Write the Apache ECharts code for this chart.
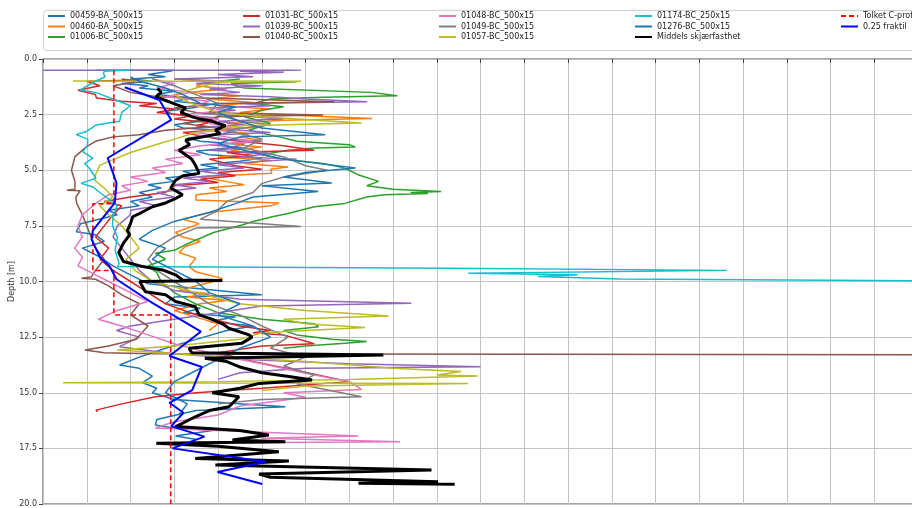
<!DOCTYPE html>
<html><head><meta charset="utf-8">
<script src="https://cdn.jsdelivr.net/npm/echarts@6/dist/echarts.min.js"></script>
<style>html,body{margin:0;padding:0;background:#fff}#c{width:912px;height:508px}</style>
</head><body><div id="c"></div>
<script>
// Depth tick labels (y axis, inverted)
const depthTicks = ['0.0','2.5','5.0','7.5','10.0','12.5','15.0','17.5','20.0'];
// Series names
const names = ['00459-BA_500x15','00460-BA_500x15','01006-BC_500x15','01031-BC_500x15','01039-BC_500x15','01040-BC_500x15','01048-BC_500x15','01049-BC_500x15','01057-BC_500x15','01174-BC_250x15','01276-BC_500x15','Middels skjærfasthet','Tolket C-profil','0.25 fraktil'];
// Each point: [strength, depth]
const s00459 = [[12,0.5],[30,0.5],[29,0.55],[24,0.7],[28,0.8],[20,0.9],[25,1.0],[18,1.1],[24,1.2],[22,1.3],[30,1.45],[26,1.6],[34,1.75],[30,1.9],[38,2.05],[34,2.2],[28,2.35],[30,2.5],[40,2.65],[36,2.8],[30,2.95],[32,3.1],[44,3.25],[40,3.4],[33,3.55],[36,3.7],[46,3.85],[42,4.0],[35,4.15],[38,4.3],[50,4.45],[45,4.6],[36,4.75],[40,4.9],[32,5.05],[35,5.2],[28,5.35],[30,5.5],[24,5.65],[27,5.8],[22,6.0],[25,6.2],[20,6.4],[22,6.6],[15,6.8],[17,7.0],[8.6,7.4],[7.6,7.76],[12,7.9],[14,8.2],[9,8.5],[13,8.9],[16,9.3],[20,9.7],[24,10.1],[50,10.6],[30,10.7],[28,11.0],[36,11.2],[32,11.4],[44,11.6],[38,11.8],[48,12.0],[42,12.2],[35,12.6],[28,13.0],[22,13.4],[17.5,13.75],[22,13.9],[25,14.25],[22.8,14.55],[26,14.8],[25,15.0],[30,15.3],[55.4,15.63],[35,15.8],[26,16.2],[25.7,16.45],[30,16.6],[39.4,16.67],[30.3,16.94],[35,17.1]];
const s00460 = [[30,0.9],[38,1.0],[35,1.2],[42,1.35],[33,1.5],[45,1.65],[38,1.8],[48,1.95],[40,2.1],[52,2.25],[45,2.4],[60,2.55],[75.2,2.67],[55,2.75],[42,2.9],[50,3.05],[40,3.2],[47,3.35],[45,3.5],[49.4,3.64],[44,3.85],[50,3.95],[43,4.1],[48,4.25],[40,4.4],[52,4.55],[46,4.7],[56,4.85],[52,4.95],[52.3,5.14],[35.7,5.29],[41.8,5.5],[46,5.65],[38,5.8],[42,5.95],[35,6.1],[34.9,6.34],[54,6.47],[52,6.6],[38,6.9],[32,7.2],[35.7,7.4],[30.3,7.8],[31.9,8.0],[36,8.2],[32.5,8.43],[31.1,8.7],[34.9,8.95],[33.4,9.33],[34.9,9.56],[41,9.86],[40,9.96],[35.7,10.16],[31.1,10.4],[38,10.55],[33,10.7],[42,10.85],[36,11.0],[30,11.3],[35,11.6],[40,11.9],[38,12.2]];
const s01006 = [[45,0.9],[40,1.0],[58,1.02],[43,1.1],[44,1.2],[46,1.3],[75,1.5],[81,1.65],[64,1.72],[52,1.8],[48,2.0],[55,2.15],[50,2.3],[46,2.6],[52,2.9],[47,3.2],[54,3.5],[58,3.7],[70,3.85],[71.4,3.95],[62,4.0],[56,4.1],[50,4.3],[55,4.5],[64,4.7],[68,4.85],[70,5.0],[72,5.2],[76.7,5.5],[74,5.7],[80,5.85],[91,5.96],[84,6.0],[88,6.05],[78,6.1],[74,6.2],[69,6.49],[62,6.64],[56,6.94],[52.4,7.09],[48,7.3],[45.5,7.46],[39,7.8],[33.4,8.27],[30,8.6],[25.7,8.73],[28,9.0],[24,9.3],[26,9.6],[27,10.0],[30,10.5],[34.8,11.0],[40,11.4],[50,11.7],[62,11.9],[63,12.03],[55,12.2],[58,12.4],[66,12.6],[74,12.7],[69,12.78],[60,12.9],[55,13.0]];
const s01031 = [[20,0.95],[10,1.0],[13,1.2],[8,1.4],[12,1.6],[12.2,1.75],[18,1.9],[26,2.0],[22,2.1],[30,2.25],[26,2.4],[34,2.55],[30,2.7],[38,2.85],[35,3.0],[42,3.15],[32,3.3],[40,3.6],[55,3.9],[62,4.1],[42,4.2],[48,4.35],[38,4.5],[44,4.8],[50,4.95],[40,5.1],[44,5.25],[36,5.4],[40,5.55],[30,5.7],[28,6.0],[20,6.2],[14,6.4],[18,6.6],[16,7.0],[14,7.5],[12,8.0],[15,8.5],[13,9.0],[16,9.5],[20,10.0],[24,10.5],[28,11.0],[35,11.5],[45,12.0],[52,12.2],[48,12.3],[55,12.4],[62,12.8],[50,12.9],[40,13.2],[48,13.6],[58,14.0],[70,14.5],[50,14.8],[35,15.0],[25.7,15.18],[18,15.5],[12.1,15.78],[12.5,15.85]];
const s01039 = [[0,0.5],[35,0.5],[59,0.5],[45,0.55],[55,0.6],[40,0.7],[48,0.8],[30,0.9],[42,1.0],[35,1.1],[50,1.2],[38,1.35],[45,1.5],[36,1.6],[52,1.7],[60,1.8],[74.1,1.92],[45,2.0],[52,2.1],[38,2.2],[44,2.3],[36,2.45],[48,2.6],[55,2.7],[40,2.8],[46,2.95],[38,3.05],[45,3.2],[52,3.3],[35,3.45],[42,3.6],[50,3.7],[38,3.85],[46,4.0],[38,4.1],[52,4.25],[45,4.4],[58,4.5],[50,4.6],[40,4.75],[46,4.9],[36,5.05],[42,5.2],[32,5.35],[38,5.5],[30,5.65],[35,5.8],[26,6.0],[30,6.2],[22,6.4],[26,6.6],[20,6.8],[20,7.0],[17,7.5],[16,8.0],[18,8.5],[20,9.0],[22,9.5],[25,10.0],[30,10.4],[45,10.8],[84.2,10.98],[50,11.1],[40,11.4],[30,11.7],[20,12.0],[16.8,12.2],[22,12.5],[17.5,12.93],[28,13.2],[45,13.5],[70,13.7],[100,13.83],[60,13.9],[45,14.1],[40,14.4]];
const s01040 = [[18,0.9],[22,1.0],[16,1.2],[20,1.5],[26,1.7],[45,1.8],[66.6,1.92],[40,2.0],[30,2.2],[35,2.4],[64,2.52],[40,2.6],[32,2.9],[38,3.05],[28,3.2],[22,3.4],[16,3.5],[12,3.7],[10,3.94],[7.3,4.39],[6.5,5.0],[7.3,5.5],[7.3,5.85],[5.5,5.9],[8.5,5.92],[7.5,6.2],[7.7,6.49],[9,7.0],[10,7.5],[11,8.0],[12,8.5],[14,9.0],[12,9.5],[11,9.8],[8.8,9.85],[12,9.9],[15,10.2],[18,10.6],[22,11.0],[20,11.5],[24,12.0],[21.3,12.6],[15,12.9],[9.6,13.08],[14,13.2],[25,13.25],[210,13.3]];
const s01048 = [[25,0.9],[30,1.1],[26,1.3],[34,1.5],[28,1.7],[38,1.9],[35,2.1],[42,2.3],[32,2.5],[40,2.7],[38,2.9],[46,3.1],[35,3.3],[42,3.5],[48,3.7],[36,3.9],[30,4.1],[36,4.3],[28,4.5],[32,4.7],[25,4.9],[28,5.1],[20,5.3],[24,5.5],[18,5.7],[20,5.9],[15,6.1],[12,6.5],[9,7.0],[8,7.5],[9,8.0],[7.2,8.5],[9,8.9],[8,9.3],[12,9.7],[16,10.1],[20,10.5],[24,10.9],[17,11.3],[12.6,11.7],[18,12.0],[24,12.4],[30,12.8],[40,13.3],[50,13.7],[62,14.2],[70,14.5],[72.8,14.85],[55,15.0],[60,15.2],[45,15.6],[40,16.0],[30,16.3],[25.7,16.58],[40,16.7],[72.1,16.94],[50,17.05],[81.6,17.2],[45,17.25]];
const s01049 = [[25,0.9],[30,1.2],[35,1.6],[40,2.0],[38,2.4],[45,2.8],[52,2.95],[42,3.2],[50,3.6],[46,4.0],[55,4.4],[60,4.8],[65,5.0],[55,5.3],[50,5.6],[48,6.0],[42,6.4],[40,6.8],[36,7.2],[58.9,7.53],[35,7.6],[30,8.0],[26,8.5],[24,9.0],[26,9.5],[30,10.0],[34,10.5],[38,11.0],[45,11.5],[50,12.0],[56,12.5],[52,13.0],[60,13.4],[55,13.8],[62,14.2],[58,14.6],[72.8,15.18],[50,15.3],[40,15.5]];
const s01057 = [[6.8,0.99],[30,1.0],[59,1.0],[40,1.05],[35,1.3],[30,1.6],[34,2.0],[40,2.4],[50,2.6],[72.8,2.88],[45,3.0],[35,3.3],[30,3.6],[25,3.9],[20,4.2],[13,4.77],[12,5.2],[11.8,5.44],[14,5.8],[16,6.2],[13,6.6],[15,7.0],[18,7.5],[20,8.0],[22,8.5],[19,9.0],[21,9.5],[25,10.0],[35,10.5],[45,11.0],[60,11.3],[79,11.55],[55,11.7],[60,11.9],[73.6,12.07],[50,12.3],[45,12.6],[30,12.9],[17,13.08],[35,13.3],[60,13.6],[80,13.9],[95.6,14.05],[90,14.2],[99.4,14.25],[70,14.4],[40,14.5],[4.6,14.55],[97.2,14.58],[60,14.7],[50,14.9]];
const s01174 = [[20,0.5],[14,0.55],[13.8,0.65],[14.2,0.8],[12,1.0],[8.5,1.39],[12,1.5],[16,1.8],[20,2.1],[18,2.4],[17.5,2.8],[12.1,2.97],[9.8,3.27],[7.6,3.4],[10.2,3.6],[10.2,3.87],[9.1,4.17],[11.4,4.46],[9.5,4.7],[10.6,4.91],[12.1,5.36],[8.7,5.59],[11.4,5.75],[13,6.0],[15,6.3],[17,6.6],[16,7.0],[15.9,7.5],[17,8.0],[16.5,8.6],[17.4,9.2],[17,9.33],[92.6,9.4],[156.3,9.5],[97.2,9.63],[122.2,9.7],[113.1,9.78],[131.7,9.89],[210,9.98]];
const s01276 = [[20,0.8],[22,1.0],[28,1.3],[32,1.6],[36,2.0],[44,2.15],[40,2.4],[45,2.8],[50,3.1],[64.5,3.4],[45,3.5],[40,3.8],[48,4.2],[55,4.5],[71.4,4.9],[60,5.1],[55,5.3],[66,5.57],[50,5.7],[62.9,5.96],[48,6.2],[44,6.5],[38,6.9],[30,7.3],[25,7.7],[22,8.1],[28,8.5],[25,9.0],[30,9.5],[35,10.0],[38,10.5],[45,11.0],[40,11.5],[48,12.0],[52,12.5],[45,13.0],[40,13.5],[35,14.0],[30,14.5],[28,15.0],[33,15.5],[31,16.0]];
const middels = [[26.2,1.32],[27.0,1.5],[25.8,1.7],[28.8,1.92],[30.5,2.05],[32.6,2.2],[31.5,2.4],[34.1,2.6],[36.0,2.7],[38.7,2.8],[41.7,3.0],[39.4,3.2],[40.5,3.35],[36.5,3.5],[32.6,3.64],[33.5,3.85],[31.1,4.1],[32.6,4.3],[34.0,4.5],[34.8,4.76],[35.7,5.14],[32.0,5.25],[30.3,5.45],[29.2,5.8],[31.9,6.1],[30.0,6.3],[28.0,6.47],[25.0,6.64],[22.5,6.9],[20.5,7.09],[20.0,7.4],[19.3,7.7],[19.8,7.9],[18.4,8.27],[17.3,8.7],[18.4,9.1],[22.8,9.33],[27.3,9.48],[30.3,9.7],[31.9,9.93],[41.0,9.96],[22.1,10.0],[23.4,10.46],[28.0,10.6],[30.3,10.9],[34.8,11.13],[35.7,11.5],[38.7,11.7],[41.0,11.9],[42.5,12.1],[47.1,12.4],[47.8,12.5],[45.5,12.77],[33.4,13.0],[34.0,13.2],[77.8,13.3],[37.0,13.45],[42.0,13.6],[44.8,13.83],[50.0,14.1],[56.2,14.27],[61.5,14.43],[49.4,14.58],[45.0,14.8],[38.7,15.0],[44.8,15.18],[42.5,15.63],[38.0,15.8],[34.8,16.08],[31.9,16.37],[30.3,16.52],[45.0,16.7],[51.6,16.9],[43.3,17.12],[55.4,17.2],[25.9,17.27],[40.0,17.4],[53.9,17.65],[34.8,17.95],[56.2,18.07],[39.4,18.25],[88.8,18.47],[49.4,18.65],[52.0,18.8],[90.3,19.0],[72.1,19.07],[94.1,19.11]];
const tolket = [[16.2,0.5],[16.2,6.5],[11.4,6.5],[11.4,9.5],[16.2,9.5],[16.2,11.5],[29.2,11.5],[29.2,20]];
const fraktil = [[18.7,1.27],[26.6,1.84],[29.3,2.74],[14.8,4.45],[16.8,5.58],[16.4,6.47],[11.4,7.7],[11.1,8.1],[13.0,8.9],[15.2,9.3],[16.8,9.9],[24.5,10.9],[30.5,11.6],[36.1,12.25],[28.9,13.35],[36.3,13.84],[34.1,14.88],[28.9,15.45],[32.1,15.9],[29.3,16.5],[36.9,16.97],[29.6,17.5],[50.9,18.1],[39.9,18.56],[50.1,19.1]];

const colors = ['#1f77b4','#ff7f0e','#2ca02c','#d62728','#9467bd','#8c564b','#e377c2','#7f7f7f','#bcbd22','#17becf','#1f77b4','#000000','#ff0000','#0000ff'];
const datas = [s00459,s00460,s01006,s01031,s01039,s01040,s01048,s01049,s01057,s01174,s01276,middels,tolket,fraktil];

const series = datas.map((d,i)=>({
  name: names[i], type:'line', data:d, symbol:'none', clip:true,
  color: colors[i],
  lineStyle:{color:colors[i], width: i===11?3:(i===13?2:1.5), type: i===12?[5,3]:'solid'},
  animation:false
}));

const font = 'DejaVu Sans';
const legendBase = {orient:'vertical', top:12, itemWidth:17, itemHeight:10, itemGap:2.5, padding:0,
  itemStyle:{opacity:0, borderWidth:0},
  textStyle:{fontSize:8, color:'#222', fontFamily:font}, z:6};
const cols = [[0,1,2],[3,4,5],[6,7,8],[9,10,11],[12,13]];
const lefts = [47,242,438,634,840];

const chart = echarts.init(document.getElementById('c'), null, {renderer:'canvas'});
chart.setOption({
  animation:false,
  backgroundColor:'#fff',
  graphic:[{type:'rect', shape:{x:43.5, y:10.5, width:900, height:40, r:3}, style:{fill:'#fff', stroke:'#d0d0d0', lineWidth:1}, z:-1}],
  legend: cols.map((c,k)=>Object.assign({}, legendBase, {left:lefts[k], data:c.map(i=>names[i])})),
  grid:{left:43, top:59, width:875, height:445, show:true, borderColor:'#444', borderWidth:1, backgroundColor:'transparent', containLabel:false, outerBoundsMode:'none'},
  xAxis:{type:'value', min:0, max:200, interval:10,
    axisLine:{show:false}, axisTick:{show:true, length:4, lineStyle:{color:'#444'}},
    axisLabel:{show:false},
    splitLine:{show:true, lineStyle:{color:'#c4c4c4', width:1}}},
  yAxis:{type:'value', inverse:true, min:0, max:20, interval:2.5,
    axisLine:{show:false}, axisTick:{show:true, length:4, lineStyle:{color:'#444'}},
    axisLabel:{margin:6, fontSize:8, color:'#333', fontFamily:font, formatter:(v)=>depthTicks[Math.round(v/2.5)]},
    splitLine:{show:true, lineStyle:{color:'#c4c4c4', width:1}},
    name:'Depth [m]', nameLocation:'middle', nameGap:27, nameRotate:90, nameMoveOverlap:false,
    nameTextStyle:{fontSize:8, color:'#333', fontFamily:font}},
  series: series
});
</script></body></html>
